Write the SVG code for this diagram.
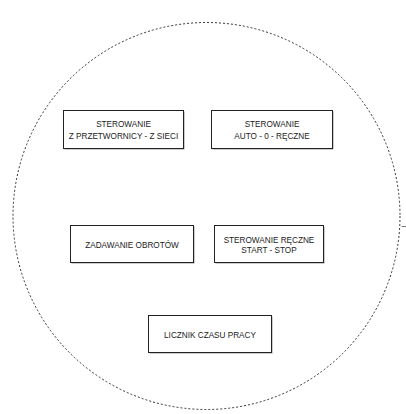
<svg xmlns="http://www.w3.org/2000/svg" width="406" height="414" viewBox="0 0 406 414">
<style>
.box{fill:#fff;stroke:#222;stroke-width:1}
.sh{fill:#999}
.t{font-family:"Liberation Sans",Arial,sans-serif;font-size:8.2px;fill:#222;text-anchor:middle}
.dash{fill:none;stroke:#333;stroke-width:1;stroke-dasharray:2 2}
</style>
<rect width="406" height="414" fill="#fff"/>
<g id="boundary">
<circle class="dash" cx="206.5" cy="216" r="193.5"/>
</g>
<g id="connectors">
<line x1="401.5" y1="226.5" x2="406" y2="226.5" stroke="#777" stroke-width="1"/>
</g>
<g id="n1">
<rect class="sh" x="64.5" y="111.5" width="120" height="38"/>
<rect class="box" x="63.5" y="110.5" width="120" height="38"/>
<text class="t" x="123.5" y="126.5">STEROWANIE</text>
<text class="t" x="123.5" y="138.5">Z PRZETWORNICY - Z SIECI</text>
</g>
<g id="n2">
<rect class="sh" x="212.5" y="111.5" width="121" height="38"/>
<rect class="box" x="211.5" y="110.5" width="121" height="38"/>
<text class="t" x="272" y="126.5">STEROWANIE</text>
<text class="t" x="272" y="138.5">AUTO - 0 - RĘCZNE</text>
</g>
<g id="n3">
<rect class="sh" x="71.5" y="226.5" width="123" height="37"/>
<rect class="box" x="70.5" y="225.5" width="123" height="37"/>
<text class="t" x="132" y="247.5">ZADAWANIE OBROTÓW</text>
</g>
<g id="n4">
<rect class="sh" x="215.5" y="226.5" width="109" height="37"/>
<rect class="box" x="214.5" y="225.5" width="109" height="37"/>
<text class="t" x="269" y="243">STEROWANIE RĘCZNE</text>
<text class="t" x="269" y="252.5">START - STOP</text>
</g>
<g id="n5">
<rect class="sh" x="149.5" y="316.5" width="123" height="37"/>
<rect class="box" x="148.5" y="315.5" width="123" height="37"/>
<text class="t" x="210" y="337.5">LICZNIK CZASU PRACY</text>
</g>
</svg>
